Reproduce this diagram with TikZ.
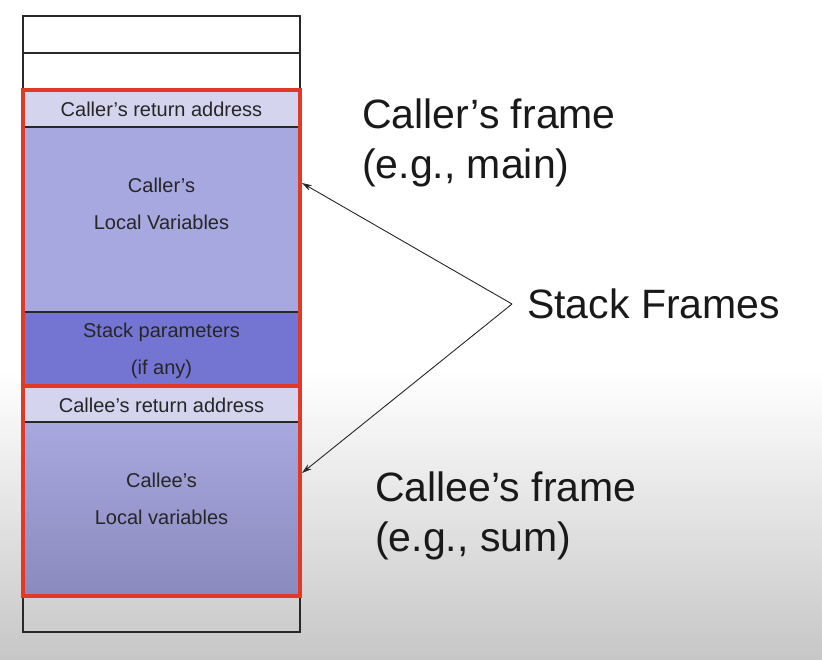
\documentclass[tikz,border=0pt]{standalone}
\usepackage{fontspec}
\setmainfont{Liberation Sans}
\usetikzlibrary{positioning,calc,arrows.meta}

\definecolor{retfill}{RGB}{212,212,238}
\definecolor{localfill}{RGB}{168,168,224}
\definecolor{paramfill}{RGB}{116,116,210}
\definecolor{calleelow}{RGB}{138,138,190}
\definecolor{framered}{RGB}{224,58,38}
\definecolor{cellline}{RGB}{40,40,40}

\tikzset{
  cell/.style={draw=cellline, line width=1.2pt, minimum width=277pt, inner sep=0pt, outer sep=0pt, anchor=north},
  smalltxt/.style={align=center, font=\fontsize{20}{37}\selectfont, text=black!85},
  bigtxt/.style={align=left, anchor=west, inner sep=0pt, font=\fontsize{41}{50}\selectfont, text=black!90},
  frameline/.style={draw=framered, line width=3.5pt},
  pointer/.style={draw=black!85, line width=0.9pt, -{Stealth[length=10pt,width=6pt]}}
}

\begin{document}
\begin{tikzpicture}[x=1pt,y=1pt]
  \useasboundingbox (0,0) rectangle (822,-659);
  \fill[white] (0,0) rectangle (822,-370);
  \shade[top color=white, bottom color=black!22] (0,-370) rectangle (822,-659);

  \node (slotA) [cell, minimum height=37pt] at (161.5,-16) {};
  \node (slotB) [cell, minimum height=37pt, below=0pt of slotA] {};
  \node (retCaller) [cell, fill=retfill, minimum height=37pt, below=0pt of slotB] {};
  \node (localCaller) [cell, fill=localfill, minimum height=185pt, below=0pt of retCaller] {};
  \node (params) [cell, fill=paramfill, minimum height=74pt, below=0pt of localCaller] {};
  \node (retCallee) [cell, fill=retfill, minimum height=36pt, below=0pt of params] {};
  \node (localCallee) [cell, top color=localfill, bottom color=calleelow, minimum height=174pt, below=0pt of retCallee] {};
  \node (slotC) [cell, minimum height=36pt, below=0pt of localCallee] {};

  \node (retCallerTxt) [smalltxt] at ($(retCaller)+(0,-1)$) {Caller’s return address};
  \node (localCallerTxt) [smalltxt] at ($(localCaller.north)+(0,-76.5)$) {Caller’s\\Local Variables};
  \node (paramsTxt) [smalltxt] at ($(params)+(0,-2)$) {Stack parameters\\(if any)};
  \node (retCalleeTxt) [smalltxt] at ($(retCallee)+(0,-1)$) {Callee’s return address};
  \node (localCalleeTxt) [smalltxt] at ($(localCallee.north)+(0,-76.5)$) {Callee’s\\Local variables};

  \draw[frameline] (retCaller.north west) rectangle (params.south east);
  \draw[frameline] (retCallee.north west) rectangle (localCallee.south east);

  \node (callerFrame) [bigtxt] at (362,-143) {Caller’s frame\\(e.g., main)};
  \node (calleeFrame) [bigtxt] at (375,-516) {Callee’s frame\\(e.g., sum)};
  \node (stackFrames) [bigtxt, inner xsep=15pt] at (512,-304) {Stack Frames};

  \coordinate (tipMain) at (302,-183);
  \coordinate (tipSum) at (302,-473);

  \path
    (stackFrames.west) edge[pointer] (tipMain)
    (stackFrames.west) edge[pointer] (tipSum);
\end{tikzpicture}
\end{document}
